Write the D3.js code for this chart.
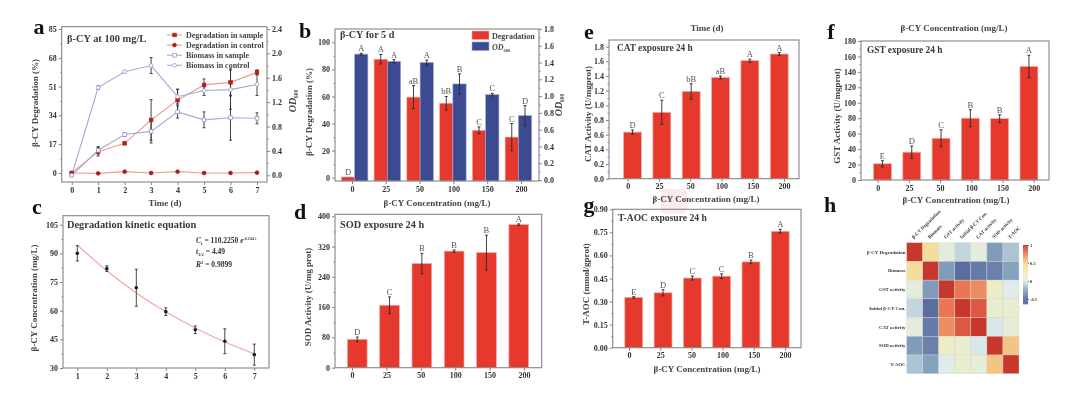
<!DOCTYPE html>
<html>
<head>
<meta charset="utf-8">
<script src="https://cdn.jsdelivr.net/npm/d3@7"></script>
<style>
    html, body { margin: 0; background: #fff; }
    svg { display: block; filter: blur(0.5px); font-family: "Liberation Serif", serif; }
    .tick text { font-weight: bold; fill: #333; }
    .axis-title { font-weight: bold; fill: #444; font-size: 9px; text-anchor: middle; }
    .panel-title { font-weight: bold; fill: #3a3a3a; }
    .panel-letter { font-weight: bold; fill: #111; font-size: 22px; text-anchor: middle; }
    .sig { fill: #555; font-size: 8.5px; text-anchor: middle; }
</style>
</head>
<body>
<div id="chart"></div>
<script>
const WIDTH = 1080;
const HEIGHT = 410;

// ── Panel a: time course ──
const days = [0, 1, 2, 3, 4, 5, 6, 7];
const degSample = [0, 12.6, 17.5, 31.3, 43, 52, 53.5, 59.4];
const degSampleErr = [0, 2.5, 0.6, 12, 6.5, 3.5, 8, 1.5];
const degControl = [0, -0.2, 0.8, 0, 0.8, 0, 0, 0.2];
const degControlErr = [0, 0.3, 0.3, 0.3, 0.3, 0.2, 0.2, 0.2];
const bioSample = [0, 0.41, 0.67, 0.72, 1.04, 0.91, 0.945, 0.935];
const bioSampleErr = [0, 0.06, 0.03, 0.19, 0.1, 0.13, 0.37, 0.09];
const bioControl = [0, 1.44, 1.7, 1.8, 1.29, 1.39, 1.405, 1.49];
const bioControlErr = [0, 0.03, 0.02, 0.13, 0.12, 0.08, 0.32, 0.18];

// ── Panel b: grouped bars ──
const concLabels = ["0", "25", "50", "100", "150", "200"];
const degBars = [0.5, 87.5, 59.5, 55, 35, 30];
const degBarsErr = [0, 3.5, 8.5, 5, 2.5, 10];
const degLetters = ["D", "A", "aB", "bB", "C", "C"];
const odBars = [1.5, 1.415, 1.4, 1.145, 1.017, 0.767];
const odBarsErr = [0.01, 0.02, 0.03, 0.12, 0.015, 0.12];
const odLetters = ["A", "A", "A", "B", "C", "D"];

// ── Panel c: kinetics ──
const kineticDays = [1, 2, 3, 4, 5, 6, 7];
const kineticConc = [90, 82, 72, 59.5, 50, 44, 37];
const kineticErr = [4, 1.5, 9.7, 2, 2, 6.5, 5.5];
const kineticFit = [94.4, 80.9, 69.3, 59.4, 50.9, 43.6, 37.4];

// ── Panels d to g: single bars ──
const sodValues = [75, 165, 275, 308, 304, 378];
const sodErr = [6, 22, 27, 3, 46, 2];
const sodLetters = ["D", "C", "B", "B", "B", "A"];
const catValues = [0.635, 0.905, 1.19, 1.38, 1.61, 1.7];
const catErr = [0.03, 0.165, 0.105, 0.02, 0.02, 0.02];
const catLetters = ["D", "C", "bB", "aB", "A", "A"];
const gstValues = [21, 36, 54, 80, 79.5, 147];
const gstErr = [4, 8, 11, 11, 5, 14.5];
const gstLetters = ["E", "D", "C", "B", "B", "A"];
const taocValues = [0.327, 0.357, 0.453, 0.465, 0.558, 0.757];
const taocErr = [0.005, 0.02, 0.013, 0.015, 0.012, 0.012];
const taocLetters = ["E", "D", "C", "C", "B", "A"];

// ── Panel h: correlation heatmap ──
const heatLabels = ["β-CY Degradation", "Biomass", "GST activity", "Initial β-CY Con.", "CAT activity", "SOD activity", "T-AOC"];
const heatRows = [
    [1, 0.42, 0.07, -0.08, 0.06, -0.3, -0.15],
    [0.42, 1, -0.3, -0.52, -0.45, -0.42, -0.27],
    [0.07, -0.3, 1, 0.78, 0.72, 0.17, 0],
    [-0.08, -0.52, 0.78, 1, 0.88, 0.12, 0.12],
    [0.06, -0.45, 0.72, 0.88, 1, -0.02, 0.08],
    [-0.3, -0.42, 0.17, 0.12, -0.02, 1, 0.55],
    [-0.15, -0.27, 0, 0.12, 0.08, 0.55, 1],
];

const AXIS = "#858585";
const RED = "#e5392d";
const BLUE = "#3c4a92";
const DARK = "#2a2a2a";

const svg = d3.select("#chart").append("svg")
    .attr("width", WIDTH)
    .attr("height", HEIGHT);

// Faint pink square behind the top of panel g
svg.append("rect")
    .attr("x", 661).attr("y", 189).attr("width", 26).attr("height", 25).attr("rx", 4)
    .attr("fill", "#fdeaea");

function frame(box) {
    svg.append("rect")
        .attr("x", box.x0).attr("y", box.y0)
        .attr("width", box.x1 - box.x0).attr("height", box.y1 - box.y0)
        .attr("fill", "none").attr("stroke", AXIS).attr("stroke-width", 1.1);
}

// Draws one axis with labelled ticks plus short unlabelled minor ticks
function drawAxis(axisFn, scale, pos, vertical, ticks, minors, format, fontSize) {
    const g = svg.append("g")
        .attr("transform", vertical ? `translate(${pos},0)` : `translate(0,${pos})`);
    if (minors) {
        g.append("g").call(axisFn(scale).tickValues(minors).tickSize(1.5).tickFormat(""))
            .call(s => s.select(".domain").remove())
            .selectAll("line").attr("stroke", AXIS);
    }
    const major = g.append("g").call(axisFn(scale).tickValues(ticks).tickSize(3).tickPadding(2).tickFormat(format));
    major.select(".domain").remove();
    major.selectAll("line").attr("stroke", AXIS).attr("stroke-width", 1);
    major.selectAll("text").attr("font-size", fontSize || 8).attr("font-family", "Liberation Serif");
}

function axisTitle(text, x, y, rotate, size) {
    return svg.append("text")
        .attr("class", "axis-title")
        .attr("transform", `translate(${x},${y})${rotate ? " rotate(-90)" : ""}`)
        .style("font-size", (size || 9) + "px")
        .text(text);
}

function odTitle(x, y) {
    const t = axisTitle("", x, y, true, 10);
    t.append("tspan").attr("font-style", "italic").text("OD");
    t.append("tspan").attr("dy", 2).attr("font-size", 5.5).text("600");
}

function panelTitle(text, x, y, size) {
    svg.append("text").attr("class", "panel-title")
        .attr("x", x).attr("y", y).attr("font-size", size).text(text);
}

function panelLetter(text, x, y) {
    svg.append("text").attr("class", "panel-letter").attr("x", x).attr("y", y).text(text);
}

function errorBars(xs, ys, errs, yScale, color) {
    const g = svg.append("g").attr("stroke", color || DARK).attr("stroke-width", 0.9).attr("fill", "none");
    xs.forEach((x, i) => {
        if (!errs[i]) return;
        const hi = yScale(ys[i] + errs[i]);
        const lo = yScale(ys[i] - errs[i]);
        g.append("path").attr("d", `M${x},${hi}V${lo}M${x - 1.5},${hi}h3M${x - 1.5},${lo}h3`);
    });
}

function range(start, stop, step) {
    return d3.range(Math.round((stop - start) / step) + 1).map(i => +(start + i * step).toFixed(4));
}

// ── a ──
function drawPanelA() {
    const box = { x0: 61.7, x1: 267, y0: 26.7, y1: 182 };
    const x = d3.scaleLinear().domain([0, 7]).range([71.7, 257]);
    const yL = d3.scaleLinear().domain([0, 85]).range([173, 29]);
    const yR = d3.scaleLinear().domain([0, 2.4]).range([175.3, 29]);
    frame(box);
    drawAxis(d3.axisBottom, x, box.y1, false, days, null, d3.format("d"));
    drawAxis(d3.axisLeft, yL, box.x0, true, range(0, 85, 17), range(8.5, 76.5, 17), d3.format("d"));
    drawAxis(d3.axisRight, yR, box.x1, true, range(0, 2.4, 0.4), range(0.2, 2.2, 0.4), d3.format(".1f"));

    const series = [
        { v: degSample, e: degSampleErr, y: yL, line: "#f29a94", fill: "#b3201c", sq: true, name: "Degradation in sample" },
        { v: degControl, e: degControlErr, y: yL, line: "#f29a94", fill: "#a81c1a", sq: false, name: "Degradation in control" },
        { v: bioSample, e: bioSampleErr, y: yR, line: "#a5a8d6", fill: "#fff", sq: true, name: "Biomass in sample" },
        { v: bioControl, e: bioControlErr, y: yR, line: "#a5a8d6", fill: "#fff", sq: false, name: "Biomass in control" },
    ];
    series.forEach(s => {
        errorBars(days.map(x), s.v, s.e, s.y, "#333");
        svg.append("path")
            .attr("d", d3.line().x((d, i) => x(days[i])).y(d => s.y(d))(s.v))
            .attr("fill", "none").attr("stroke", s.line).attr("stroke-width", 1.1);
    });
    const marker = (s, px, py, stroke) => {
        if (s.sq) {
            svg.append("rect").attr("x", px - 1.8).attr("y", py - 1.8).attr("width", 3.6).attr("height", 3.6)
                .attr("fill", s.fill).attr("stroke", stroke).attr("stroke-width", 0.7);
        } else {
            svg.append("circle").attr("cx", px).attr("cy", py).attr("r", 1.9)
                .attr("fill", s.fill).attr("stroke", stroke).attr("stroke-width", 0.7);
        }
    };
    series.forEach(s => s.v.forEach((d, i) => marker(s, x(days[i]), s.y(d), s.fill === "#fff" ? "#8d90c6" : s.fill)));

    // Legend
    series.forEach((s, i) => {
        const ly = 35 + i * 10.1;
        svg.append("line").attr("x1", 167).attr("x2", 182).attr("y1", ly).attr("y2", ly)
            .attr("stroke", s.line).attr("stroke-width", 1.1);
        marker(s, 174.5, ly, s.fill === "#fff" ? "#8d90c6" : s.fill);
        svg.append("text").attr("x", 186).attr("y", ly + 2.8).attr("font-size", 8)
            .attr("font-weight", "bold").attr("fill", "#444").text(s.name);
    });

    panelTitle("β-CY at 100 mg/L", 67, 42, 10.4);
    panelLetter("a", 39, 34);
    axisTitle("β-CY Degradation (%)", 38, 103, true);
    axisTitle("Time (d)", 165, 206);
    odTitle(296, 101);
}

// ── b ──
function drawPanelB() {
    const box = { x0: 335, x1: 539, y0: 29, y1: 181 };
    const step = (521 - 352) / 5;
    const x = d3.scaleBand().domain(concLabels).range([352 - step / 2, 521 + step / 2]).padding(0.19);
    const yL = d3.scaleLinear().domain([0, 100]).range([177.7, 42.3]);
    const yR = d3.scaleLinear().domain([0, 1.8]).range([180, 29]);
    const half = x.bandwidth() / 2;

    const drawBars = (vals, scale, off, color) => {
        svg.append("g").selectAll("rect").data(vals).join("rect")
            .attr("x", (d, i) => x(concLabels[i]) + off)
            .attr("y", d => scale(d))
            .attr("width", half)
            .attr("height", d => box.y1 - scale(d))
            .attr("fill", color)
            .attr("stroke", color === RED ? "#f5aaa4" : "#9ea6d0")
            .attr("stroke-width", 0.6);
    };
    drawBars(degBars, yL, 0, RED);
    drawBars(odBars, yR, half, BLUE);
    errorBars(concLabels.map(c => x(c) + half / 2), degBars, degBarsErr, yL);
    errorBars(concLabels.map(c => x(c) + half * 1.5), odBars, odBarsErr, yR);
    const sigLabels = (vals, errs, letters, scale, off) => {
        svg.append("g").selectAll("text").data(vals).join("text")
            .attr("class", "sig")
            .attr("x", (d, i) => x(concLabels[i]) + off)
            .attr("y", (d, i) => scale(d + errs[i]) - 2)
            .text((d, i) => letters[i]);
    };
    sigLabels(degBars, degBarsErr, degLetters, yL, half / 2);
    sigLabels(odBars, odBarsErr, odLetters, yR, half * 1.5);

    frame(box);
    const bandCentre = d3.scalePoint().domain(concLabels).range([352, 521]);
    drawAxis(d3.axisBottom, bandCentre, box.y1, false, concLabels, null, d => d);
    drawAxis(d3.axisLeft, yL, box.x0, true, range(0, 100, 20), range(10, 90, 20), d3.format("d"));
    drawAxis(d3.axisRight, yR, box.x1, true, range(0, 1.8, 0.2), range(0.1, 1.7, 0.2), d3.format(".1f"));

    // Legend
    [[RED, 31], [BLUE, 42]].forEach(([c, ly]) => {
        svg.append("rect").attr("x", 472).attr("y", ly).attr("width", 17).attr("height", 8.5)
            .attr("fill", c).attr("stroke", c === RED ? "#f5aaa4" : "#9ea6d0").attr("stroke-width", 0.6);
    });
    svg.append("text").attr("x", 492).attr("y", 38.5).attr("font-size", 8)
        .attr("font-weight", "bold").attr("fill", "#444").text("Degradation");
    const od = svg.append("text").attr("x", 492).attr("y", 49.5).attr("font-size", 8)
        .attr("font-weight", "bold").attr("fill", "#444");
    od.append("tspan").attr("font-style", "italic").text("OD");
    od.append("tspan").attr("dy", 2).attr("font-size", 4.5).text("600");

    panelTitle("β-CY for 5 d", 340, 38, 10.2);
    panelLetter("b", 305, 38);
    axisTitle("β-CY Degradation (%)", 312, 112, true);
    axisTitle("β-CY Concentration (mg/L)", 437, 206);
    odTitle(562, 105);
}

// ── c ──
function drawPanelC() {
    const box = { x0: 63, x1: 269, y0: 215.7, y1: 368 };
    const x = d3.scaleLinear().domain([1, 7]).range([77.3, 254.3]);
    const y = d3.scaleLinear().domain([30, 105]).range([368, 224.7]);
    frame(box);
    drawAxis(d3.axisBottom, x, box.y1, false, kineticDays, null, d3.format("d"));
    drawAxis(d3.axisLeft, y, box.x0, true, range(30, 105, 15), range(37.5, 97.5, 15), d3.format("d"));

    svg.append("path")
        .attr("d", d3.line().curve(d3.curveMonotoneX).x((d, i) => x(kineticDays[i])).y(d => y(d))(kineticFit))
        .attr("fill", "none").attr("stroke", "#f3a6a0").attr("stroke-width", 1.2);
    errorBars(kineticDays.map(x), kineticConc, kineticErr, y, "#333");
    svg.append("g").selectAll("circle").data(kineticConc).join("circle")
        .attr("cx", (d, i) => x(kineticDays[i]))
        .attr("cy", d => y(d))
        .attr("r", 1.8)
        .attr("fill", "#1c1c1c");

    panelTitle("Degradation kinetic equation", 67, 228, 10.4);
    panelLetter("c", 37, 214);
    axisTitle("β-CY Concentration (mg/L)", 37, 298, true);

    const eq = (y0, build) => {
        const t = svg.append("text").attr("x", 196).attr("y", y0).attr("font-size", 7.5)
            .attr("font-weight", "bold").attr("fill", "#333");
        build(t);
    };
    eq(243, t => {
        t.append("tspan").attr("font-style", "italic").text("C");
        t.append("tspan").attr("dy", 1.5).attr("font-size", 4.5).text("t");
        t.append("tspan").attr("dy", -1.5).text(" = 110.2250 ");
        t.append("tspan").attr("font-style", "italic").text("e");
        t.append("tspan").attr("dy", -3).attr("font-size", 3.5).text("-0.1544 t");
    });
    eq(254, t => {
        t.append("tspan").attr("font-style", "italic").text("t");
        t.append("tspan").attr("dy", 1.5).attr("font-size", 4.5).text("1/2");
        t.append("tspan").attr("dy", -1.5).text(" = 4.49");
    });
    eq(267, t => {
        t.append("tspan").attr("font-style", "italic").text("R");
        t.append("tspan").attr("dy", -3).attr("font-size", 4.5).text("2");
        t.append("tspan").attr("dy", 3).text(" = 0.9899");
    });
}

// ── d to g share one layout ──
function drawBarPanel(p) {
    const { box, first, last, yDomain, yRange } = p;
    const step = (last - first) / 5;
    const x = d3.scaleBand().domain(concLabels).range([first - step / 2, last + step / 2]).padding(0.39);
    const y = d3.scaleLinear().domain(yDomain).range(yRange);
    svg.append("g").selectAll("rect").data(p.values).join("rect")
        .attr("x", (d, i) => x(concLabels[i]))
        .attr("y", d => y(d))
        .attr("width", x.bandwidth())
        .attr("height", d => box.y1 - y(d))
        .attr("fill", RED)
        .attr("stroke", "#f5aaa4")
        .attr("stroke-width", 0.7);
    const centres = concLabels.map(c => x(c) + x.bandwidth() / 2);
    errorBars(centres, p.values, p.errs, y);
    svg.append("g").selectAll("text").data(p.values).join("text")
        .attr("class", "sig")
        .attr("x", (d, i) => centres[i])
        .attr("y", (d, i) => y(d + p.errs[i]) - 2)
        .text((d, i) => p.letters[i]);

    frame(box);
    const centreScale = d3.scalePoint().domain(concLabels).range([first, last]);
    drawAxis(d3.axisBottom, centreScale, box.y1, false, concLabels, null, d => d);
    drawAxis(d3.axisLeft, y, box.x0, true, p.ticks, p.minors, p.format);

    panelTitle(p.title, p.titleX, p.titleY, p.titleSize);
    panelLetter(p.letter, p.letterX, p.letterY);
    axisTitle(p.yTitle, p.yTitleX, p.yTitleY, true);
}

drawPanelA();
drawPanelB();
drawPanelC();

drawBarPanel({
    box: { x0: 335, x1: 541.7, y0: 214.3, y1: 367.7 },
    first: 352, last: 524, yDomain: [0, 400], yRange: [367.7, 216.3],
    values: sodValues, errs: sodErr, letters: sodLetters,
    ticks: range(0, 400, 80), minors: range(40, 360, 80), format: d3.format("d"),
    title: "SOD exposure 24 h", titleX: 340, titleY: 228, titleSize: 10.3,
    letter: "d", letterX: 300, letterY: 219,
    yTitle: "SOD Activity (U/mg prot)", yTitleX: 311, yTitleY: 297,
});
drawBarPanel({
    box: { x0: 609, x1: 799, y0: 40, y1: 178.7 },
    first: 627.7, last: 784, yDomain: [0, 1.8], yRange: [178.7, 46.7],
    values: catValues, errs: catErr, letters: catLetters,
    ticks: range(0, 1.8, 0.2), minors: range(0.1, 1.7, 0.2), format: d3.format(".1f"),
    title: "CAT exposure 24 h", titleX: 617, titleY: 51, titleSize: 9.3,
    letter: "e", letterX: 589, letterY: 39,
    yTitle: "CAT Activity (U/mgprot)", yTitleX: 591, yTitleY: 114,
});
drawBarPanel({
    box: { x0: 861, x1: 1049, y0: 41, y1: 180 },
    first: 877.7, last: 1033.7, yDomain: [0, 180], yRange: [180, 41],
    values: gstValues, errs: gstErr, letters: gstLetters,
    ticks: range(0, 180, 20), minors: range(10, 170, 20), format: d3.format("d"),
    title: "GST exposure 24 h", titleX: 867, titleY: 53, titleSize: 9.3,
    letter: "f", letterX: 831, letterY: 39,
    yTitle: "GST Activity (U/mgprot)", yTitleX: 840, yTitleY: 116,
});
drawBarPanel({
    box: { x0: 612.7, x1: 801, y0: 209.3, y1: 347.7 },
    first: 629, last: 785, yDomain: [0, 0.9], yRange: [347.7, 209.3],
    values: taocValues, errs: taocErr, letters: taocLetters,
    ticks: range(0, 0.9, 0.15), minors: range(0.075, 0.825, 0.15), format: d3.format(".2f"),
    title: "T-AOC exposure 24 h", titleX: 618, titleY: 221, titleSize: 9.6,
    letter: "g", letterX: 589, letterY: 212,
    yTitle: "T-AOC (mmol/gprot)", yTitleX: 589, yTitleY: 284,
});

// Titles that sit apart from their panels
axisTitle("Time (d)", 707, 31);
axisTitle("β-CY Concentration (mg/L)", 954, 31);
axisTitle("β-CY Concentration (mg/L)", 706, 202);
axisTitle("β-CY Concentration (mg/L)", 956, 203);
axisTitle("β-CY Concentration (mg/L)", 707, 372);

// ── h ──
function drawHeatmap() {
    const color = d3.scaleLinear()
        .domain([-0.64, -0.5, -0.25, 0, 0.2, 0.45, 0.6, 0.8, 1])
        .range(["#4f5f99", "#5d6ea2", "#8aa8c0", "#dfecea", "#eeedbe", "#f6dc98", "#f4b878", "#e8704f", "#c8372d"]);
    const x = d3.scaleBand().domain(heatLabels).range([906.7, 1019]);
    const y = d3.scaleBand().domain(heatLabels).range([242.7, 373.7]);

    heatRows.forEach((row, r) => {
        svg.append("g").selectAll("rect").data(row).join("rect")
            .attr("x", (d, c) => x(heatLabels[c]))
            .attr("y", y(heatLabels[r]))
            .attr("width", x.bandwidth())
            .attr("height", y.bandwidth())
            .attr("fill", d => color(d))
            .attr("stroke", "#d6d6cf")
            .attr("stroke-width", 0.4);
    });

    svg.append("g").selectAll("text").data(heatLabels).join("text")
        .attr("x", 905.5).attr("y", d => y(d) + y.bandwidth() / 2 + 1.6)
        .attr("text-anchor", "end").attr("font-size", 4.9).attr("font-weight", "bold").attr("fill", "#333")
        .text(d => d);
    svg.append("g").selectAll("text").data(heatLabels).join("text")
        .attr("transform", d => `translate(${x(d) + x.bandwidth() / 2 - 1},239) rotate(-45)`)
        .attr("font-size", 4.9).attr("font-weight", "bold").attr("fill", "#333")
        .text(d => d);

    // Colour bar
    const barScale = d3.scaleLinear().domain([-0.64, 1]).range([304, 245]);
    const bar = svg.append("g");
    d3.range(-0.64, 1, 0.02).forEach(v => {
        bar.append("rect").attr("x", 1023).attr("y", barScale(v + 0.02))
            .attr("width", 5).attr("height", barScale(v) - barScale(v + 0.02) + 0.3)
            .attr("fill", color(v));
    });
    const barAxis = svg.append("g").attr("transform", "translate(1028,0)")
        .call(d3.axisRight(barScale).tickValues([-0.5, 0, 0.5, 1]).tickSize(1).tickPadding(1)
            .tickFormat(d => d === -0.5 ? "-0.5" : String(d)));
    barAxis.select(".domain").remove();
    barAxis.selectAll("line").attr("stroke", "#666");
    barAxis.selectAll("text").attr("font-size", 4.5).attr("font-family", "Liberation Serif");

    panelLetter("h", 830, 212);
}
drawHeatmap();
</script>
</body>
</html>
